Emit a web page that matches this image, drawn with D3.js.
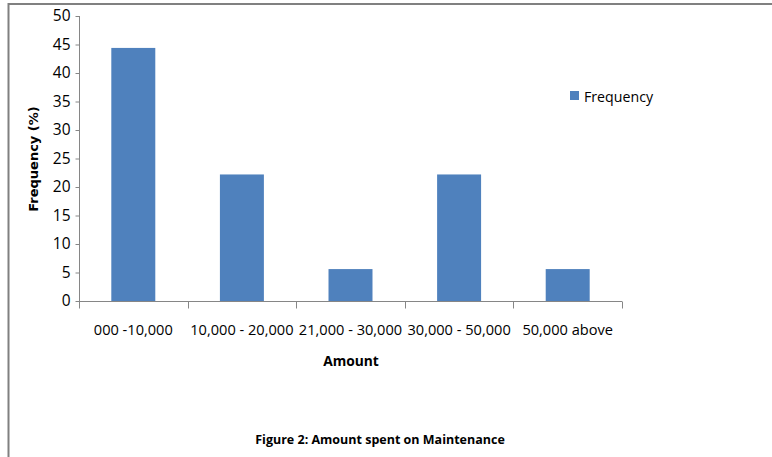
<!DOCTYPE html>
<html>
<head>
<meta charset="utf-8">
<script src="https://cdn.jsdelivr.net/npm/d3@7"></script>
<style>
	body { margin: 0; background: #fff; }
	svg text { font-family: "Open Sans", sans-serif; fill: #000; }
</style>
</head>
<body>
<script>
// data
var categories = ["000 -10,000", "10,000 - 20,000", "21,000 - 30,000", "30,000 - 50,000", "50,000 above"];
var frequency = [44.4, 22.2, 5.6, 22.2, 5.6];
var yTicks = [0, 5, 10, 15, 20, 25, 30, 35, 40, 45, 50];
var seriesName = "Frequency";
var xTitle = "Amount";
var yTitle = "Frequency (%)";
var caption = "Figure 2: Amount spent on Maintenance";

var W = 772, H = 457;
var svg = d3.select("body").append("svg").attr("width", W).attr("height", H);

// frame (top and left edges only visible)
svg.append("line").attr("x1", 8.5).attr("x2", W).attr("y1", 4).attr("y2", 4)
	.attr("stroke", "#808080").attr("stroke-width", 2);
svg.append("line").attr("x1", 8.5).attr("x2", 8.5).attr("y1", 3).attr("y2", H)
	.attr("stroke", "#808080").attr("stroke-width", 2);

var x = d3.scaleBand().domain(categories).range([79, 622]).paddingInner(0.595).paddingOuter(0.2975);
var y = d3.scaleLinear().domain([0, 50]).range([301, 16]);

// bars
svg.append("g").selectAll("rect").data(frequency).join("rect")
	.attr("x", (d, i) => x(categories[i]))
	.attr("y", d => y(d))
	.attr("width", x.bandwidth())
	.attr("height", d => y(0) - y(d))
	.attr("fill", "#4f81bd");

// y axis
var yAxis = d3.axisLeft(y).tickValues(yTicks).tickSize(4).tickPadding(5);
var gY = svg.append("g").attr("transform", "translate(79.5,0)").call(yAxis);
gY.select(".domain").attr("stroke", "#868686").attr("d", "M0," + y(50) + "V" + y(0));
gY.selectAll(".tick line").attr("stroke", "#868686");
gY.selectAll(".tick text").attr("font-size", 15.5).attr("font-family", "Open Sans, sans-serif").attr("fill", "#1a1a1a");

// x axis with ticks at band edges
var edges = d3.scaleLinear().domain([0, categories.length]).range([79, 622]);
var gX = svg.append("g").attr("transform", "translate(0," + (y(0) + 0.5) + ")");
gX.append("line").attr("x1", 79).attr("x2", 622).attr("stroke", "#868686");
gX.selectAll(".edge").data(d3.range(categories.length + 1)).join("line")
	.attr("class", "edge")
	.attr("x1", i => Math.round(edges(i)) + 0.5).attr("x2", i => Math.round(edges(i)) + 0.5)
	.attr("y1", 0).attr("y2", 7).attr("stroke", "#868686");
gX.selectAll(".lab").data(categories).join("text")
	.attr("class", "lab")
	.attr("x", d => x(d) + x.bandwidth() / 2)
	.attr("y", 33)
	.attr("text-anchor", "middle")
	.attr("font-size", 14.6)
	.attr("fill", "#1a1a1a")
	.text(d => d);

// axis titles
svg.append("text").attr("x", 351).attr("y", 366).attr("text-anchor", "middle")
	.attr("font-size", 13.8).attr("font-weight", "bold").text(xTitle);
svg.append("text").attr("transform", "translate(38,159) rotate(-90)").attr("text-anchor", "middle")
	.style("font-family", "DejaVu Sans, sans-serif")
	.attr("font-size", 13).attr("font-weight", "bold").text(yTitle);

// legend
svg.append("rect").attr("x", 570).attr("y", 91).attr("width", 9).attr("height", 9).attr("fill", "#4f81bd");
svg.append("text").attr("x", 584).attr("y", 102).attr("font-size", 14.2).attr("fill", "#1a1a1a").text(seriesName);

// caption
svg.append("text").attr("x", 380).attr("y", 444).attr("text-anchor", "middle")
	.attr("font-size", 12.5).attr("font-weight", "bold").text(caption);
</script>
</body>
</html>
